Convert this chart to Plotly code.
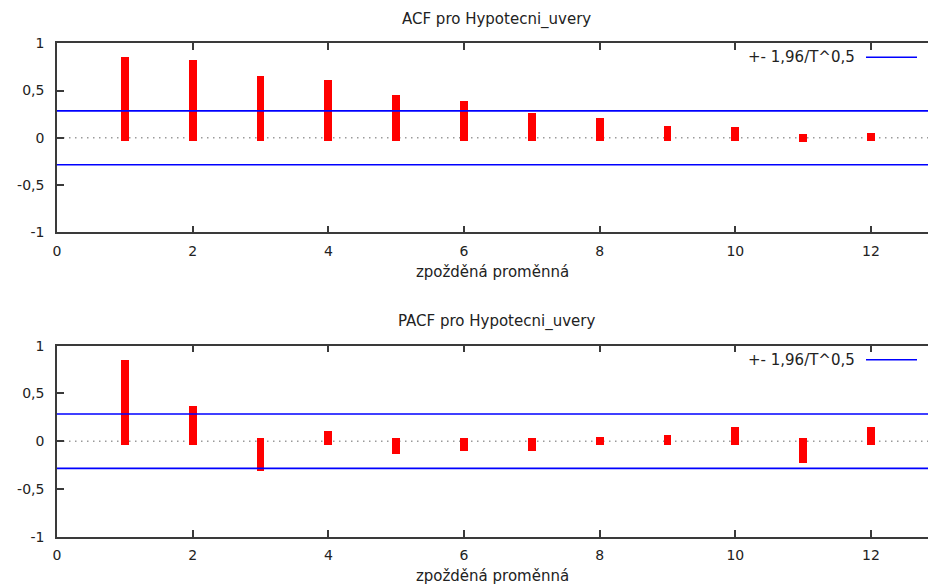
import plotly.graph_objects as go

# ---- data ----
lags = [1, 2, 3, 4, 5, 6, 7, 8, 9, 10, 11, 12]
acf_values = [0.82, 0.78, 0.62, 0.57, 0.42, 0.35, 0.22, 0.17, 0.09, 0.075, -0.008, 0.012]
pacf_values = [0.82, 0.34, -0.276, 0.077, -0.10, -0.063, -0.063, 0.017, 0.038, 0.12, -0.195, 0.12]
conf_band = 0.285  # 1,96/T^0,5
x_ticks = [0, 2, 4, 6, 8, 10, 12]
y_ticks = [-1, -0.5, 0, 0.5, 1]
y_ticktext = ["-1", "-0,5", "0", "0,5", "1"]
titles = ["ACF pro Hypotecni_uvery", "PACF pro Hypotecni_uvery"]
xlabel = "zpožděná proměnná"
legend_text = "+- 1,96/T^0,5"

W, H = 928, 585
ML = 57
X_MAX = 12.84
CAP = 0.035        # thick impulse line overshoot beyond both ends (style)
BAR_W = 0.117      # impulse thickness in x units (style)
FONT = "DejaVu Sans"
TXT = "#222222"
AX = "#3a3a3a"

def py(px):
    return (H - px) / H

def pxx(px):
    return (px - ML) / (W - ML)

fig = go.Figure()

panels = [
    dict(vals=acf_values, xa="x", ya="y", top=43.3, bot=232.3),
    dict(vals=pacf_values, xa="x2", ya="y2", top=345.7, bot=536.7),
]

for i, p in enumerate(panels):
    vals = p["vals"]
    bases = [min(v, 0) - CAP for v in vals]
    heights = [abs(v) + 2 * CAP for v in vals]
    fig.add_trace(go.Bar(
        x=lags, y=heights, base=bases, width=BAR_W,
        marker=dict(color="#ff0000", line=dict(width=0)),
        customdata=vals, hovertemplate="%{x}: %{customdata}<extra></extra>",
        xaxis=p["xa"], yaxis=p["ya"], showlegend=False, name=titles[i].split()[0],
    ))
    for s in (1, -1):
        fig.add_trace(go.Scatter(
            x=[0, X_MAX], y=[s * conf_band, s * conf_band], mode="lines",
            line=dict(color="#0000ff", width=1.6),
            xaxis=p["xa"], yaxis=p["ya"], showlegend=False, name=legend_text,
        ))

layout = dict(
    width=W, height=H,
    margin=dict(l=ML, r=0, t=0, b=0),
    paper_bgcolor="white", plot_bgcolor="white",
    font=dict(family=FONT, size=13, color=TXT),
    bargap=0,
    shapes=[], annotations=[],
)

for i, p in enumerate(panels):
    sfx = "" if i == 0 else str(i + 1)
    dom = [py(p["bot"]), py(p["top"])]
    layout["xaxis" + sfx] = dict(
        domain=[0, 1], range=[0, X_MAX], anchor="y" + sfx,
        tickvals=x_ticks, ticktext=[str(t) for t in x_ticks],
        ticks="inside", ticklen=7, tickwidth=1.5, tickcolor=AX,
        showline=True, linecolor=AX, linewidth=1.5, mirror="allticks",
        showgrid=False, zeroline=False, ticklabelstandoff=5,
        tickfont=dict(family=FONT, size=14, color=TXT),
        title=dict(text=xlabel, font=dict(family=FONT, size=15, color=TXT), standoff=9),
        automargin=False,
    )
    layout["yaxis" + sfx] = dict(
        domain=dom, range=[-1, 1], anchor="x" + sfx,
        tickvals=y_ticks, ticktext=y_ticktext,
        ticks="inside", ticklen=7, tickwidth=1.5, tickcolor=AX,
        showline=True, linecolor=AX, linewidth=1.5, mirror=False,
        showgrid=False, zeroline=False, ticklabelstandoff=8,
        tickfont=dict(family=FONT, size=14, color=TXT),
        automargin=False,
    )
    # dotted zero line
    layout["shapes"].append(dict(
        type="line", xref="x" + sfx + " domain", yref="y" + sfx,
        x0=0, x1=1, y0=0, y1=0,
        line=dict(color="#9a9a9a", width=1.5, dash="1.5px,4.5px"), layer="below",
    ))
    # title
    layout["annotations"].append(dict(
        text=titles[i], xref="paper", yref="paper",
        x=pxx(497), y=py(p["top"] - 24), xanchor="center", yanchor="middle",
        showarrow=False, font=dict(family=FONT, size=15, color=TXT),
    ))
    # manual legend (text left of line sample)
    ly = p["top"] + 14
    layout["annotations"].append(dict(
        text=legend_text, xref="paper", yref="paper",
        x=pxx(857), y=py(ly), xanchor="right", yanchor="middle",
        showarrow=False, font=dict(family=FONT, size=15, color=TXT),
    ))
    layout["shapes"].append(dict(
        type="line", xref="paper", yref="paper",
        x0=pxx(866), x1=pxx(917), y0=py(ly), y1=py(ly),
        line=dict(color="#0000ff", width=1.6),
    ))

fig.update_layout(**layout)
fig.write_html("out.html")
